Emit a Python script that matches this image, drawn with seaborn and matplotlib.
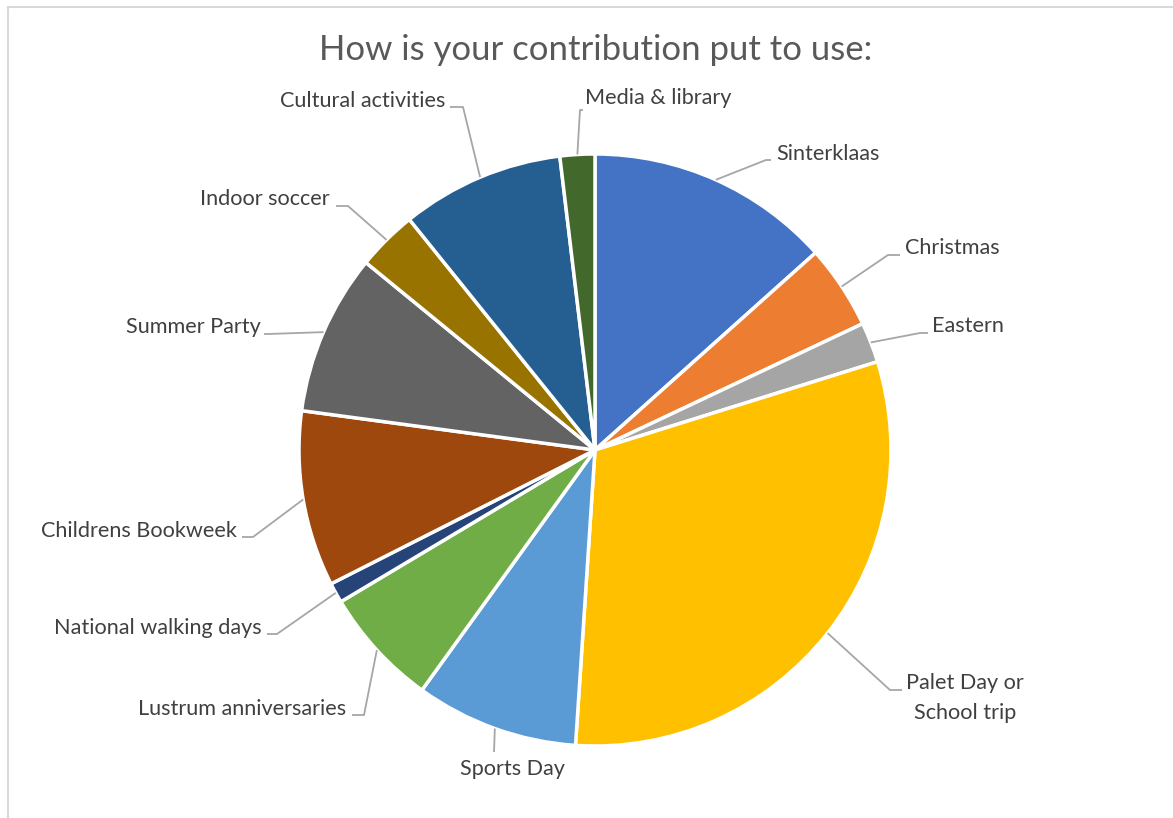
import numpy as np
import matplotlib.pyplot as plt
import seaborn as sns
from matplotlib.patches import Rectangle

# values (share of the pie, %)
categories = ["Sinterklaas", "Christmas", "Eastern", "Palet Day or\nSchool trip", "Sports Day",
              "Lustrum anniversaries", "National walking days", "Childrens Bookweek",
              "Summer Party", "Indoor soccer", "Cultural activities", "Media & library"]
shares = [13.4, 4.6, 2.2, 30.9, 8.9, 6.5, 1.1, 9.6, 8.8, 3.3, 8.9, 1.9]
colors = ["#4472C4", "#ED7D31", "#A5A5A5", "#FFC000", "#5B9BD5", "#70AD47",
          "#264478", "#9E480E", "#636363", "#997300", "#255E91", "#43682B"]

# label layout in pixel coords (x, y from top): text anchor, elbow of leader line
text_pos = [(776, 154), (905, 248), (932, 326), (965, 698), (512, 769), (346, 709),
            (262, 628), (237, 531), (261, 327), (330, 199), (445, 101), (585, 98)]
elbow_pos = [(766, 160), (888, 255), (920, 333), (890, 690), (494, 752), (364, 715),
             (277, 634), (253, 537), (268, 334), (348, 206), (463, 107), (580, 110)]
text_ha = ["left", "left", "left", "center", "center", "right",
           "right", "right", "right", "right", "right", "left"]
tail_dx = [5, 12, 8, 12, 0, -12, -10, -11, -4, -12, -13, 3]

W, H = 1173, 818
sns.set_theme(style="white")
plt.rcParams["font.family"] = ["Lato", "DejaVu Sans"]

fig = plt.figure(figsize=(W / 100, H / 100), dpi=100)
ax = fig.add_axes([0, 0, 1, 1])

cx, cy, r = 595, H - 450, 296
wedges, _ = ax.pie(shares, colors=colors, startangle=90, counterclock=False,
                   center=(cx, cy), radius=r, frame=True,
                   wedgeprops=dict(edgecolor="white", linewidth=2.5))
ax.set_xlim(0, W)
ax.set_ylim(0, H)
ax.axis("off")

line_col = "#A6A6A6"
for w, lab, tp, ep, ha, dx in zip(wedges, categories, text_pos, elbow_pos, text_ha, tail_dx):
    mid = np.deg2rad((w.theta1 + w.theta2) / 2)
    sx, sy = cx + r * np.cos(mid), cy + r * np.sin(mid)
    ex, ey = ep[0], H - ep[1]
    ax.plot([sx, ex, ex + dx], [sy, ey, ey], color=line_col, lw=1.3, solid_capstyle="butt")
    ax.text(tp[0], H - tp[1], lab, ha=ha, va="center", fontsize=15.6,
            color="#404040", linespacing=1.6)

fig.text(596 / W, 1 - 50 / H, "How is your contribution put to use:", ha="center", va="center",
         fontsize=25, color="#595959")

fig.patches.append(Rectangle((8 / W, -0.1), 1.2, 1 - 7 / H + 0.1, transform=fig.transFigure,
                             fill=False, edgecolor="#D9D9D9", lw=1.5))

fig.savefig("out.png", dpi=100, facecolor="white")
